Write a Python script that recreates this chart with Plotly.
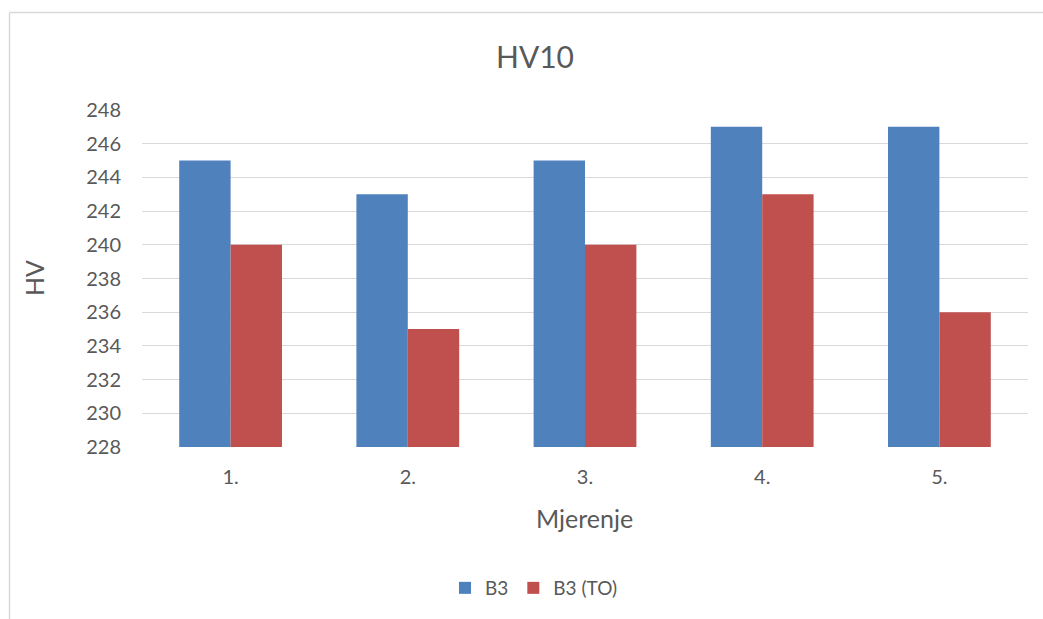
import plotly.graph_objects as go

categories = ["1.", "2.", "3.", "4.", "5."]
b3 = [245, 243, 245, 247, 247]
b3_to = [240, 235, 240, 243, 236]
tick_vals = list(range(228, 249, 2))

W, H = 1043, 619
L, R, T, B = 142, 1028, 110, 447
pw, ph = R - L, B - T

def px(x):
    return (x - L) / pw

def py(y):
    return (B - y) / ph

FONT = "Lato"
GREY = "#595959"

fig = go.Figure()
fig.add_trace(go.Bar(x=categories, y=b3, name="B3", marker_color="#4F81BD",
                     marker_line_width=0))
fig.add_trace(go.Bar(x=categories, y=b3_to, name="B3 (TO)", marker_color="#C0504D",
                     marker_line_width=0))

fig.update_layout(
    width=W, height=H,
    margin=dict(l=L, r=W - R, t=T, b=H - B, autoexpand=False),
    paper_bgcolor="white", plot_bgcolor="white",
    barmode="group", bargap=0.42, bargroupgap=0,
    font=dict(family=FONT, color=GREY, size=20),
    title=dict(text="HV10", x=535 / W, xref="container", xanchor="center",
               y=1 - 57 / H, yref="container", yanchor="middle",
               font=dict(size=30, color=GREY, family=FONT)),
    showlegend=True,
    legend=dict(orientation="h", x=px(534), xanchor="center", y=py(588),
                yanchor="middle", font=dict(size=19, color=GREY),
                itemwidth=30, traceorder="normal"),
    xaxis=dict(showgrid=False, showline=False, ticks="", ticklabelstandoff=16,
               tickfont=dict(size=20, color=GREY)),
    yaxis=dict(range=[228, 248], tickvals=tick_vals, showgrid=True, gridcolor="#D9D9D9",
               gridwidth=1, zeroline=False, showline=False, ticks="",
               ticklabelstandoff=20, tickfont=dict(size=20, color=GREY)),
)

fig.add_annotation(text="Mjerenje", xref="paper", yref="paper", x=px(584), y=py(518),
                   showarrow=False, xanchor="center", yanchor="middle",
                   font=dict(size=25, color=GREY, family=FONT))
fig.add_annotation(text="HV", xref="paper", yref="paper", x=px(34), y=py(278),
                   textangle=-90, showarrow=False, xanchor="center", yanchor="middle",
                   font=dict(size=25, color=GREY, family=FONT))

# chart-area border (top and left edges visible)
fig.add_shape(type="line", xref="paper", yref="paper", x0=px(9.5), x1=px(W + 5),
              y0=py(12.5), y1=py(12.5), line=dict(color="#D9D9D9", width=1.5))
fig.add_shape(type="line", xref="paper", yref="paper", x0=px(9.5), x1=px(9.5),
              y0=py(12.5), y1=py(H + 5), line=dict(color="#D9D9D9", width=1.5))

fig.write_html("out.html", config={"displayModeBar": False},
               post_script="document.body.style.margin='0';document.body.style.overflow='hidden';")
